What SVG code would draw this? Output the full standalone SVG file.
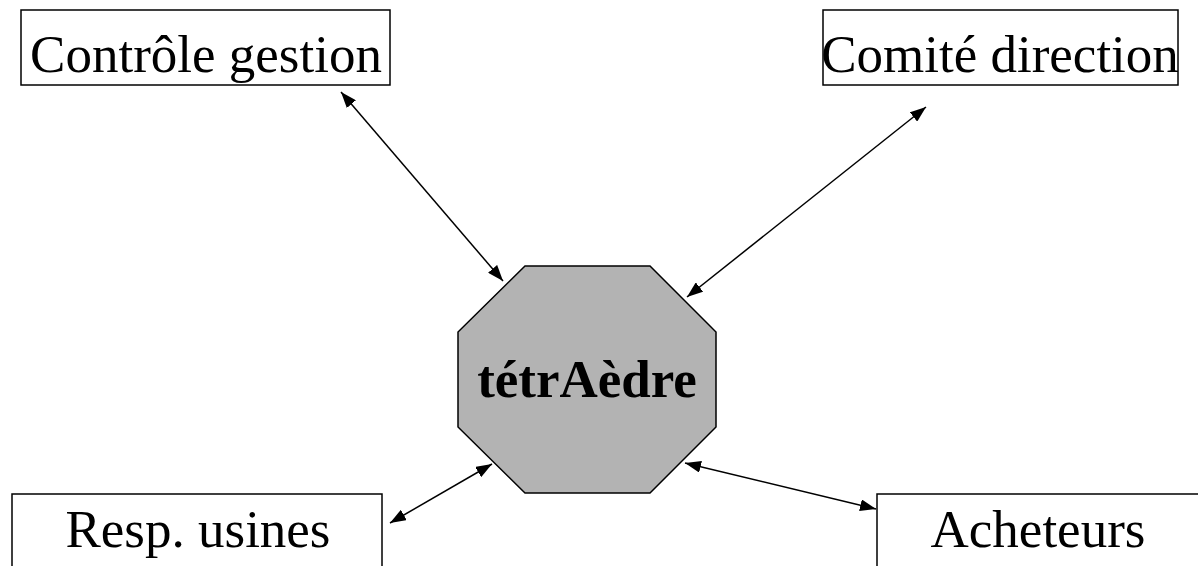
<svg xmlns="http://www.w3.org/2000/svg" width="1198" height="566" viewBox="0 0 1198 566">
<style>
.box{fill:#fff;stroke:#000;stroke-width:1.5}
.lbl{font-family:"Liberation Serif","Times New Roman",serif;font-size:53px;fill:#000;text-anchor:middle}
.conn line{stroke:#000;stroke-width:1.5;marker-start:url(#ah);marker-end:url(#ah)}
</style>
<defs>
<marker id="ah" viewBox="0 0 16 12" refX="16" refY="6" markerWidth="16" markerHeight="12" markerUnits="userSpaceOnUse" orient="auto-start-reverse">
<path d="M0,0 L16,6 L0,12 Z" fill="#000"/>
</marker>
</defs>
<rect width="1198" height="566" fill="#fff"/>
<g id="controle">
<rect class="box" x="21" y="10" width="369" height="75"/>
<text class="lbl" x="206" y="72">Contrôle gestion</text>
</g>
<g id="comite">
<rect class="box" x="823" y="10" width="355" height="75"/>
<text class="lbl" x="1000" y="72">Comité direction</text>
</g>
<g id="tetraedre">
<polygon points="525,266 650,266 716,332 716,427 650,493 525,493 458,427 458,332" fill="#b3b3b3" stroke="#000" stroke-width="1.5"/>
<text class="lbl" x="587" y="397" font-weight="bold">tétrAèdre</text>
</g>
<g id="resp">
<rect class="box" x="12" y="494" width="370" height="80"/>
<text class="lbl" x="198" y="547">Resp. usines</text>
</g>
<g id="acheteurs">
<rect class="box" x="877" y="494" width="330" height="80"/>
<text class="lbl" x="1038" y="547">Acheteurs</text>
</g>
<g class="conn" id="connectors">
<line x1="341" y1="92" x2="503" y2="281"/>
<line x1="926" y1="107" x2="687" y2="297"/>
<line x1="390" y1="523" x2="492" y2="464"/>
<line x1="685" y1="463" x2="876" y2="509"/>
</g>
</svg>
